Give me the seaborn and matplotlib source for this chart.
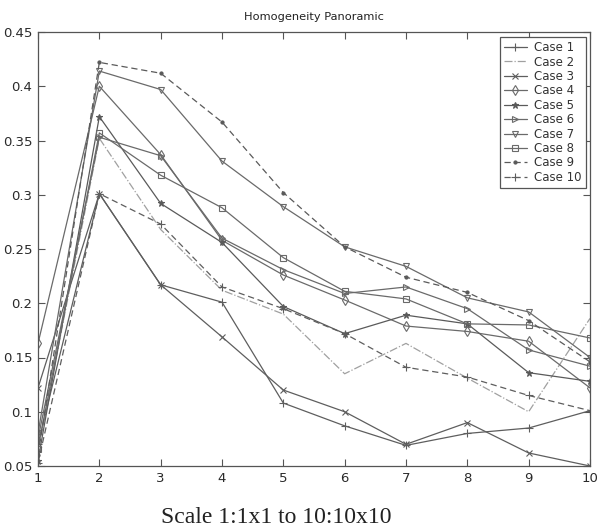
import matplotlib
matplotlib.use("Agg")
import matplotlib.pyplot as plt
import seaborn as sns
import pandas as pd

# Scale index (1:1x1 ... 10:10x10)
scales = [1, 2, 3, 4, 5, 6, 7, 8, 9, 10]

case1 = [0.070, 0.301, 0.217, 0.201, 0.108, 0.087, 0.069, 0.080, 0.085, 0.101]
case2 = [0.065, 0.352, 0.268, 0.212, 0.190, 0.135, 0.163, 0.131, 0.100, 0.186]
case3 = [0.122, 0.301, 0.217, 0.169, 0.120, 0.100, 0.070, 0.090, 0.062, 0.050]
case4 = [0.163, 0.400, 0.337, 0.258, 0.226, 0.203, 0.179, 0.174, 0.165, 0.122]
case5 = [0.055, 0.372, 0.292, 0.256, 0.197, 0.172, 0.189, 0.181, 0.136, 0.128]
case6 = [0.075, 0.353, 0.336, 0.260, 0.231, 0.209, 0.215, 0.195, 0.157, 0.142]
case7 = [0.080, 0.414, 0.397, 0.331, 0.289, 0.252, 0.234, 0.205, 0.192, 0.150]
case8 = [0.066, 0.357, 0.318, 0.288, 0.242, 0.211, 0.204, 0.181, 0.180, 0.168]
case9 = [0.060, 0.422, 0.412, 0.367, 0.302, 0.252, 0.224, 0.210, 0.184, 0.146]
case10 = [0.053, 0.301, 0.273, 0.215, 0.195, 0.172, 0.141, 0.132, 0.115, 0.101]

case_names = ["Case 1", "Case 2", "Case 3", "Case 4", "Case 5",
              "Case 6", "Case 7", "Case 8", "Case 9", "Case 10"]
case_values = [case1, case2, case3, case4, case5,
               case6, case7, case8, case9, case10]

x_ticks = [1, 2, 3, 4, 5, 6, 7, 8, 9, 10]
y_ticks = [0.05, 0.1, 0.15, 0.2, 0.25, 0.3, 0.35, 0.4, 0.45]
y_tick_labels = ["0.05", "0.1", "0.15", "0.2", "0.25", "0.3", "0.35", "0.4", "0.45"]

# Line style per case: (marker, linestyle, colour, marker size)
styles = [
    ("+", "-", "#5e5e5e", 5.5),
    (None, "-.", "#a0a0a0", 0),
    ("x", "-", "#5e5e5e", 4.5),
    ("d", "-", "#6a6a6a", 5),
    ("*", "-", "#5a5a5a", 5),
    (">", "-", "#6a6a6a", 5),
    ("v", "-", "#6a6a6a", 5),
    ("s", "-", "#6a6a6a", 5),
    (".", (0, (5, 3)), "#5a5a5a", 4.5),
    ("+", (0, (5, 3)), "#5e5e5e", 5.5),
]

sns.set_style("ticks")
plt.rcParams["font.family"] = ["DejaVu Sans"]

fig = plt.figure(figsize=(5.98, 5.29), dpi=100)
ax = fig.add_axes([38 / 598, 1 - 466 / 529, (590 - 38) / 598, (466 - 32) / 529])

for name, vals, (mk, ls, col, ms) in zip(case_names, case_values, styles):
    df = pd.DataFrame({"scale": scales, "homogeneity": vals})
    kws = dict(color=col, linestyle=ls, linewidth=0.9, label=name)
    if mk is not None:
        filled = mk in (".", "*")
        kws.update(marker=mk, markersize=ms,
                   markerfacecolor=col if filled else "none",
                   markeredgecolor=col, markeredgewidth=0.8)
    sns.lineplot(data=df, x="scale", y="homogeneity", ax=ax, **kws)

ax.set_xlim(1, 10)
ax.set_ylim(0.05, 0.45)
ax.set_xticks(x_ticks)
ax.set_xticklabels([str(t) for t in x_ticks])
ax.set_yticks(y_ticks)
ax.set_yticklabels(y_tick_labels)
ax.set_xlabel("")
ax.set_ylabel("")

for side in ["top", "right", "bottom", "left"]:
    ax.spines[side].set_visible(True)
    ax.spines[side].set_color("#555555")
    ax.spines[side].set_linewidth(0.9)
ax.tick_params(direction="in", top=True, right=True, length=5, width=0.8,
               colors="#555555", labelcolor="#2a2a2a", labelsize=9.5, pad=4)

ax.set_title("Homogeneity Panoramic", fontsize=8.2, color="#222222", pad=9)

leg = ax.legend(loc="upper right", bbox_to_anchor=(586 / 598, 1 - 37 / 529),
                bbox_transform=fig.transFigure, fontsize=8.5, frameon=True,
                fancybox=False, framealpha=1, edgecolor="#555555",
                labelspacing=0.12, handlelength=2.0, handletextpad=0.6,
                borderpad=0.35, borderaxespad=0)
leg.get_frame().set_linewidth(0.9)
for t in leg.get_texts():
    t.set_color("#333333")

fig.text(276.5 / 598, 1 - 523 / 529, "Scale 1:1x1 to 10:10x10",
         family="Liberation Serif", fontsize=17, ha="center", va="baseline",
         color="#222222")

fig.savefig("out.png", dpi=100)
